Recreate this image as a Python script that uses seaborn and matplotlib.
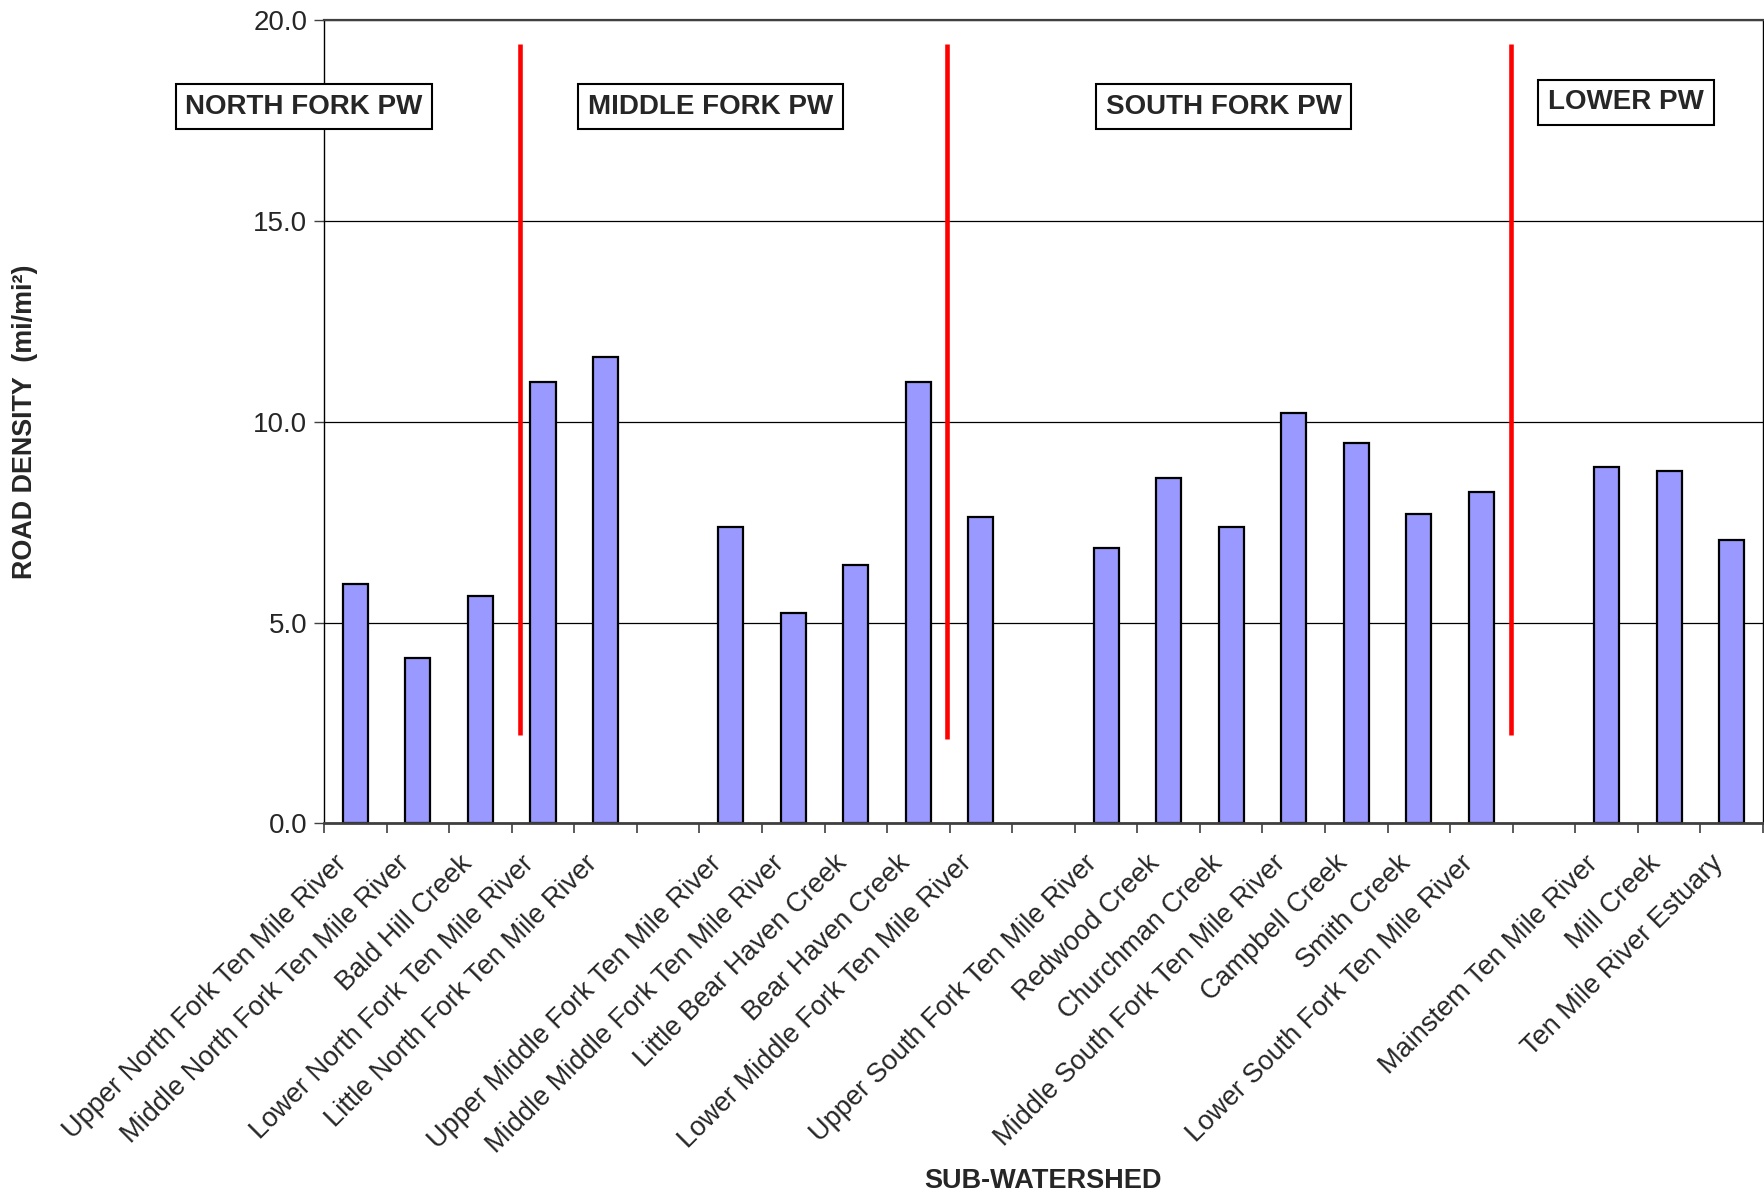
import numpy as np
import pandas as pd
import matplotlib
matplotlib.use('Agg')
import matplotlib.pyplot as plt
import seaborn as sns

# sub-watersheds in chart order, "" marks the empty gap slots between forks
watersheds = [
    "Upper North Fork Ten Mile River",
    "Middle North Fork Ten Mile River",
    "Bald Hill Creek",
    "Lower North Fork Ten Mile River",
    "Little North Fork Ten Mile River",
    "",
    "Upper Middle Fork Ten Mile River",
    "Middle Middle Fork Ten Mile River",
    "Little Bear Haven Creek",
    "Bear Haven Creek",
    "Lower Middle Fork Ten Mile River",
    "",
    "Upper South Fork Ten Mile River",
    "Redwood Creek",
    "Churchman Creek",
    "Middle South Fork Ten Mile River",
    "Campbell Creek",
    "Smith Creek",
    "Lower South Fork Ten Mile River",
    "",
    "Mainstem Ten Mile River",
    "Mill Creek",
    "Ten Mile River Estuary",
]
road_density = [
    5.97, 4.12, 5.66, 10.98, 11.6, None,
    7.39, 5.24, 6.44, 10.98, 7.62, None,
    6.86, 8.6, 7.39, 10.22, 9.47, 7.70, 8.26, None,
    8.88, 8.77, 7.06,
]

# planning watershed labels and the red dividers between them
groups = ["NORTH FORK PW", "MIDDLE FORK PW", "SOUTH FORK PW", "LOWER PW"]
group_x = [-0.82, 5.68, 13.88, 20.31]
group_y = [17.84, 17.84, 17.84, 17.95]
divider_x = [2.63, 9.46, 18.47]
divider_bottom = [2.2, 2.1, 2.2]
divider_top = [19.4, 19.4, 19.4]

# unique keys so the empty slots stay in the categorical order
keys = [w if w else f"_gap{i}" for i, w in enumerate(watersheds)]
df = pd.DataFrame({'key': keys, 'density': road_density}).dropna()

sns.set_style('white')
plt.rcParams['font.family'] = ['Liberation Sans', 'DejaVu Sans']

fig = plt.figure(figsize=(17.64, 11.96), dpi=100)
ax = fig.add_axes([0.1837, 0.3115, 0.9994 - 0.1837, 0.9833 - 0.3115])

sns.barplot(data=df, x='key', y='density', order=keys, color='#9999FF',
            saturation=1, width=0.4, edgecolor='black', linewidth=1.6,
            errorbar=None, ax=ax, zorder=2)

ax.set_xlim(-0.5, len(keys) - 0.5)
ax.set_ylim(0, 20)
ax.set_yticks([0, 5, 10, 15, 20])
ax.yaxis.set_major_formatter(matplotlib.ticker.FormatStrFormatter('%.1f'))
ax.yaxis.grid(True, color='black', lw=0.9)
ax.set_axisbelow(True)

# slanted labels end a bit left of each slot centre, like the original
ax.set_xticks(np.arange(len(keys)) - 0.2)
ax.set_xticklabels(watersheds, rotation=45, ha='right', rotation_mode='anchor',
                   va='center', fontsize=19.5)
ax.set_xticks(np.arange(-0.5, len(keys), 1), minor=True)
ax.tick_params(axis='x', which='major', length=0, pad=26)
ax.tick_params(axis='x', which='minor', length=7, width=1.2, color='#404040',
               direction='out', bottom=True)
ax.tick_params(axis='y', length=7, width=1, color='#404040', direction='out',
               left=True, labelsize=20, pad=5)

for side, c, w in [('left', 'black', 1.0), ('right', 'black', 1.0),
                   ('top', '#404040', 1.6), ('bottom', '#404040', 2.0)]:
    ax.spines[side].set_color(c)
    ax.spines[side].set_linewidth(w)

ax.vlines(divider_x, divider_bottom, divider_top, color='#FF0000', lw=3.3,
          zorder=4)

for name, x, y in zip(groups, group_x, group_y):
    ax.text(x, y, name, ha='center', va='center', fontsize=20,
            fontweight='bold', zorder=5, clip_on=False,
            bbox=dict(boxstyle='square,pad=0.35', fc='white', ec='black',
                      lw=1.5))

ax.set_ylabel('ROAD DENSITY  (mi/mi²)', fontsize=19.4, fontweight='bold',
              va='center')
ax.yaxis.set_label_coords(-0.2076, 0.5)
ax.set_xlabel('SUB-WATERSHED', fontsize=19.5, fontweight='bold', va='center')
ax.xaxis.set_label_coords(0.5, -0.445)

fig.savefig('out.png', dpi=100)
